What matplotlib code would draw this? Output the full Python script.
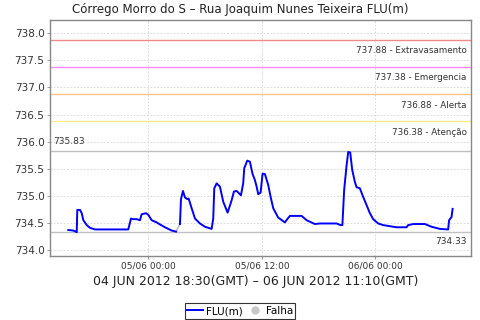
import matplotlib
matplotlib.use("Agg")
import matplotlib.pyplot as plt
import matplotlib.dates as mdates
from matplotlib.lines import Line2D
import pandas as pd
import numpy as np

# --- data (hours relative to 05/06/2012 00:00 local time) ---
base = pd.Timestamp("2012-06-05 00:00")
hours_a = [-8.48, -7.95, -7.59, -7.53, -7.24, -7.06, -6.89, -6.53, -6.19, -5.66,
           -4.07, -2.14, -1.85, -1.61, -1.25, -0.90, -0.72, -0.26, -0.02, 0.34,
           0.87, 1.04, 1.74, 2.45, 2.91]
flu_a = [734.37, 734.36, 734.33, 734.74, 734.74, 734.68, 734.55, 734.46, 734.41, 734.38,
         734.38, 734.38, 734.58, 734.57, 734.57, 734.55, 734.66, 734.68, 734.65, 734.55,
         734.51, 734.49, 734.42, 734.36, 734.34]
hours_gap = [2.91, 3.33]
flu_gap = [734.34, 734.48]
hours_b = [3.33, 3.44, 3.65, 3.86, 4.10, 4.25, 4.57, 4.92, 5.45, 5.97,
           6.68, 6.85, 6.96, 7.21, 7.56, 7.91, 8.37, 8.80, 9.04, 9.33,
           9.78, 10.02, 10.13, 10.45, 10.73, 11.00, 11.26, 11.44, 11.61, 11.86,
           12.07, 12.32, 12.67, 12.92, 13.20, 13.72, 14.43, 14.68, 14.96, 16.20,
           16.73, 17.60, 18.13, 19.90, 20.32, 20.51, 20.70, 20.96, 21.13, 21.34,
           21.55, 21.83, 22.01, 22.36, 22.71, 23.07, 23.42, 23.77, 24.30, 24.83,
           25.53, 26.24, 27.30, 27.47, 28.00, 29.24, 29.94, 30.82, 31.70, 31.80,
           32.06, 32.17]
flu_b = [734.48, 734.94, 735.09, 734.97, 734.94, 734.95, 734.77, 734.58, 734.49, 734.43,
         734.39, 734.58, 735.14, 735.23, 735.17, 734.89, 734.69, 734.92, 735.08, 735.09,
         735.01, 735.23, 735.51, 735.65, 735.63, 735.41, 735.29, 735.17, 735.03, 735.06,
         735.41, 735.40, 735.20, 734.98, 734.77, 734.60, 734.51, 734.57, 734.63, 734.63,
         734.55, 734.48, 734.49, 734.49, 734.46, 734.46, 735.11, 735.57, 735.81, 735.80,
         735.48, 735.26, 735.16, 735.14, 734.98, 734.83, 734.68, 734.57, 734.49, 734.46,
         734.44, 734.42, 734.42, 734.46, 734.48, 734.48, 734.43, 734.39, 734.38, 734.55,
         734.61, 734.76]

levels = [737.88, 737.38, 736.88, 736.38]
level_names = ["Extravasamento", "Emergencia", "Alerta", "Atenção"]
level_colors = ["#f08a8a", "#ff88ff", "#ffc488", "#ffeb8c"]
max_val = 735.83
min_val = 734.33

yticks = [734.0, 734.5, 735.0, 735.5, 736.0, 736.5, 737.0, 737.5, 738.0]
xticks = ["2012-06-05 00:00", "2012-06-05 12:00", "2012-06-06 00:00"]
xlim = ["2012-06-04 13:35", "2012-06-06 10:07"]
title = "Córrego Morro do S – Rua Joaquim Nunes Teixeira FLU(m)"
xlabel = "04 JUN 2012 18:30(GMT) – 06 JUN 2012 11:10(GMT)"


def to_t(hs):
    return [base + pd.Timedelta(hours=h) for h in hs]


fig = plt.figure(figsize=(4.8, 3.2), dpi=100)
ax = fig.add_axes([50 / 480, 1 - 256 / 320, 421 / 480, 236 / 320])

ax.set_ylim(733.89, 738.245)
ax.set_xlim(pd.Timestamp(xlim[0]), pd.Timestamp(xlim[1]))
ax.set_yticks(yticks)
ax.yaxis.set_major_formatter(matplotlib.ticker.FormatStrFormatter("%.1f"))
ax.set_xticks([pd.Timestamp(t) for t in xticks])
ax.xaxis.set_major_formatter(mdates.DateFormatter("%d/%m %H:%M"))
ax.grid(True, color="#d4d4d4", linestyle=(0, (2, 2)), linewidth=0.6)
ax.set_axisbelow(True)
for s in ax.spines.values():
    s.set_color("#888888")
    s.set_linewidth(1.0)
ax.tick_params(axis="both", length=2, width=0.6, color="#888888", pad=2)
ax.tick_params(axis="y", labelsize=7.5, labelcolor="#333333")
ax.tick_params(axis="x", labelsize=6.5, labelcolor="#333333")

# threshold lines
for lv, nm, c in zip(levels, level_names, level_colors):
    ax.axhline(lv, color=c, linewidth=1.0, zorder=2)
    ax.annotate(f"{lv:.2f} - {nm}", xy=(1, lv), xycoords=("axes fraction", "data"),
                xytext=(-3, -8), textcoords="offset points", ha="right", va="center",
                fontsize=6.3, color="#333333")
ax.axhline(max_val, color="#c0c0c0", linewidth=1.0, zorder=2)
ax.annotate(f"{max_val:.2f}", xy=(0, max_val), xycoords=("axes fraction", "data"),
            xytext=(2, 6.5), textcoords="offset points", ha="left", va="center",
            fontsize=6.5, color="#333333")
ax.axhline(min_val, color="#c0c0c0", linewidth=1.0, zorder=2)
ax.annotate(f"{min_val:.2f}", xy=(1, min_val), xycoords=("axes fraction", "data"),
            xytext=(-3, -6.5), textcoords="offset points", ha="right", va="center",
            fontsize=6.5, color="#333333")

ax.plot(to_t(hours_gap), flu_gap, color="#bbbbbb", linewidth=1.2, zorder=3)
ax.plot(to_t(hours_a), flu_a, color="#0000ff", linewidth=1.4, zorder=4)
ax.plot(to_t(hours_b), flu_b, color="#0000ff", linewidth=1.4, zorder=4)

fig.text(0.5, 1 - 10 / 320, title, ha="center", va="center", fontsize=8.5, color="#222222")
fig.text(256 / 480, 1 - 282 / 320, xlabel, ha="center", va="center", fontsize=9, color="#222222")

handles = [Line2D([], [], color="#0000ff", linewidth=1.4),
           Line2D([], [], linestyle="none", marker="o", markersize=5,
                  markerfacecolor="#c8c8c8", markeredgecolor="#c8c8c8")]
leg = fig.legend(handles, ["FLU(m)", "Falha"], loc="center", bbox_to_anchor=(240 / 480, 1 - 311 / 320),
                 ncol=2, fontsize=7.5, frameon=True, fancybox=False, handlelength=1.5,
                 handletextpad=0.3, columnspacing=0.4, borderpad=0.25, borderaxespad=0)
leg.get_frame().set_edgecolor("#000000")
leg.get_frame().set_linewidth(0.8)

fig.savefig("out.png", dpi=100)
